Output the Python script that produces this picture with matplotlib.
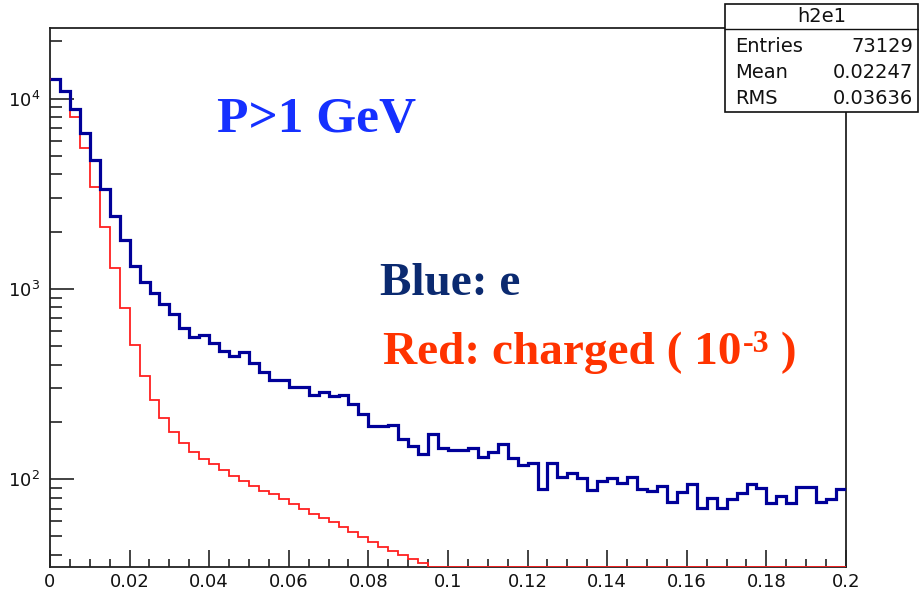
import numpy as np
import matplotlib
matplotlib.use("Agg")
import matplotlib.pyplot as plt
from matplotlib.patches import Rectangle
from matplotlib.lines import Line2D
from matplotlib.ticker import LogLocator, FixedLocator, MultipleLocator, FuncFormatter, NullFormatter

# ---------------- data ----------------
x_min, x_max, n_bins = 0.0, 0.2, 80
y_min, y_max = 34.5, 23500

blue_values = [12700, 10900, 8850, 6560, 4730, 3350, 2420, 1800, 1315, 1092,
               948, 830, 736, 621, 561, 573, 521, 473, 444, 464,
               406, 367, 332, 332, 306, 306, 277, 287, 274, 278,
               247, 219, 190, 190, 192, 162, 150, 136, 172, 145,
               142, 142, 146, 131, 138, 152, 129, 118, 122, 89,
               122, 103, 107, 101, 87.5, 98, 101.6, 95, 103, 89,
               86.8, 91.9, 75.4, 85.8, 93.8, 70.1, 79.8, 70.1, 78.5, 84.7,
               93.8, 90, 75, 81.7, 75, 90.4, 90.4, 76, 78.5, 88.3]

# visible red bins; the rest lie below the axis minimum
red_values = [12700, 10900, 8020, 5510, 3450, 2110, 1280, 791, 506, 348,
              261, 210, 177, 154, 139, 127, 119.5, 111, 104, 98,
              92, 86.8, 83, 78.5, 73.8, 69.3, 65.5, 62.6, 59.2, 55.7,
              52.4, 49.5, 46.8, 44, 42, 39.7, 38, 36]

stats_title = "h2e1"
stats_labels = ["Entries", "Mean", "RMS"]
stats_values = ["73129", "0.02247", "0.03636"]

# ---------------- figure ----------------
W, H, DPI = 920, 593, 100
plt.rcParams['mathtext.fontset'] = 'custom'
plt.rcParams['mathtext.sf'] = 'DejaVu Sans'
plt.rcParams['mathtext.rm'] = 'DejaVu Sans'

fig = plt.figure(figsize=(W / DPI, H / DPI), dpi=DPI)
fig.patch.set_facecolor('white')

def fx(px):
    return px / W

def fy(py):
    return 1 - py / H

ax_l, ax_r, ax_t, ax_b = 50, 846, 28, 567
ax = fig.add_axes([fx(ax_l), fy(ax_b), fx(ax_r - ax_l), (ax_b - ax_t) / H])

edges = np.linspace(x_min, x_max, n_bins + 1)
blue = np.array(blue_values, dtype=float)
red = np.full(n_bins, y_min, dtype=float)
red[:len(red_values)] = np.array(red_values, dtype=float)
red = np.maximum(red, y_min)

ax.stairs(red, edges, baseline=None, color='#ff2020', linewidth=1.3, zorder=3)
ax.stairs(blue, edges, baseline=None, color='#000099', linewidth=2.3, zorder=4)

ax.set_yscale('log')
ax.set_xlim(x_min, x_max)
ax.set_ylim(y_min, y_max)

# ticks
ax.xaxis.set_major_locator(MultipleLocator(0.02))
ax.xaxis.set_minor_locator(MultipleLocator(0.005))
ax.xaxis.set_major_formatter(FuncFormatter(lambda v, p: "%g" % round(v, 4)))
ax.yaxis.set_major_locator(FixedLocator([1e2, 1e3, 1e4]))
ax.yaxis.set_minor_locator(LogLocator(base=10, subs=np.arange(2, 10), numticks=20))
ax.yaxis.set_minor_formatter(NullFormatter())
ax.yaxis.set_major_formatter(FuncFormatter(
    lambda v, p: r"$\mathsf{10^{%d}}$" % int(round(np.log10(v)))))

ax.tick_params(axis='both', which='both', direction='in', top=False, right=False,
               colors='#222222', labelcolor='#111111', width=1.2)
ax.tick_params(axis='x', which='major', length=12, pad=4, labelsize=13)
ax.tick_params(axis='x', which='minor', length=6)
ax.tick_params(axis='y', which='major', length=17, pad=7, labelsize=13)
ax.tick_params(axis='y', which='minor', length=8.5)
for s in ax.spines.values():
    s.set_linewidth(1.3)
    s.set_color('#222222')

# ---------------- stats box ----------------
bx0, bx1, by0, by1, bdiv = 725, 918, 4, 112, 29
fig.add_artist(Rectangle((fx(bx0), fy(by1)), fx(bx1 - bx0), (by1 - by0) / H,
                         transform=fig.transFigure, facecolor='white',
                         edgecolor='#111111', linewidth=1.2, zorder=5))
fig.add_artist(Line2D([fx(bx0), fx(bx1)], [fy(bdiv), fy(bdiv)],
                      transform=fig.transFigure, color='#111111', linewidth=1.0, zorder=6))
fig.text(fx((bx0 + bx1) / 2), fy(17), stats_title, ha='center', va='center',
         fontsize=14, color='#111111', zorder=7)
for i, (lab, val) in enumerate(zip(stats_labels, stats_values)):
    yy = fy(46 + 26 * i)
    fig.text(fx(735), yy, lab, ha='left', va='center', fontsize=14, color='#111111', zorder=7)
    fig.text(fx(913), yy, val, ha='right', va='center', fontsize=14, color='#111111', zorder=7)

# ---------------- annotations ----------------
serif = dict(fontweight='bold', family='Liberation Serif')
fig.text(fx(217), fy(132), "P>1 GeV", ha='left', va='baseline',
         fontsize=37, color='#1530ff', **serif)
fig.text(fx(380), fy(295), "Blue: e", ha='left', va='baseline',
         fontsize=34, color='#0b2a70', **serif)
red_base = fy(364)
t1 = fig.text(fx(383), red_base, "Red: charged ( 10", ha='left', va='baseline',
              fontsize=34, color='#ff3300', **serif)
t2 = fig.text(0, 0, "-3", fontsize=23, color='#ff3300', va='baseline', **serif)
t3 = fig.text(0, 0, " )", fontsize=34, color='#ff3300', va='baseline', **serif)

fig.canvas.draw()
r = fig.canvas.get_renderer()
bb1 = t1.get_window_extent(r)
t2.set_position((bb1.x1 / W + 1 / W, red_base + 12 / H))
fig.canvas.draw()
bb2 = t2.get_window_extent(r)
t3.set_position((bb2.x1 / W, red_base))

fig.savefig("out.png", dpi=DPI, facecolor='white')
